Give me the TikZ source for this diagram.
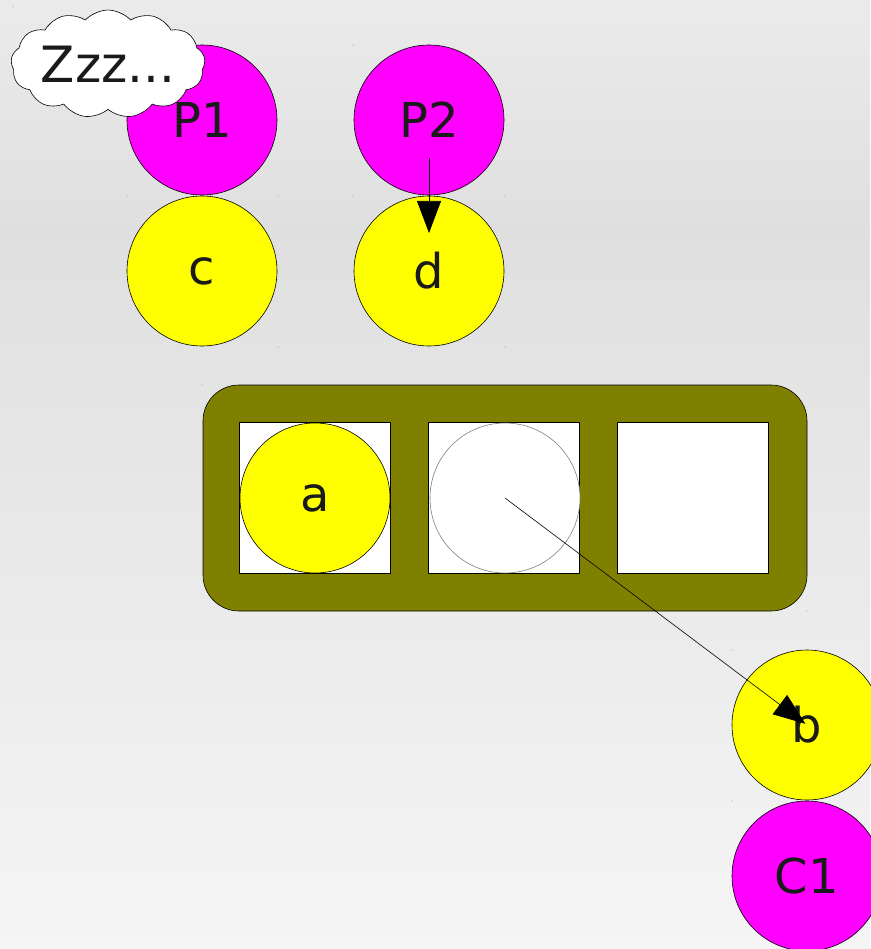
\documentclass[tikz,border=0pt]{standalone}
\usepackage{fontspec}
\setmainfont{DejaVu Sans}
\usetikzlibrary{shapes.symbols,arrows.meta}
\definecolor{txt}{HTML}{1A1A1A}
\definecolor{olivebox}{HTML}{808000}
\definecolor{pmag}{HTML}{FF00FF}
\definecolor{pyel}{HTML}{FFFF00}
\tikzset{
  ball/.style={circle, draw=black, line width=0.6pt, minimum size=150pt, inner sep=0pt,
    font=\fontsize{48}{48}\selectfont, text=txt},
  proc/.style={ball, fill=pmag},
  obj/.style={ball, fill=pyel},
  slot/.style={draw=black, line width=0.6pt, fill=white, minimum size=151pt, inner sep=0pt},
  pin/.style={fill=gray!70, inner sep=0pt, minimum size=1.2pt, circle},
  ptr/.style={-{Triangle[length=32pt,width=24pt]}, line width=0.6pt}
}
\begin{document}
\begin{tikzpicture}[x=1pt,y=-1pt]
\useasboundingbox (0,0) rectangle (870,949);
\shade[top color=black!8, bottom color=black!12.5] (0,0) rectangle (870,230);
\shade[top color=black!12.5, bottom color=black!4] (0,230) rectangle (870,949);
% corner markers
\foreach \p in {(13,7),(127,196),(278,196),(353,45),(353,196),(505,196),(278,347),(505,347),(202,385),(807,611),(732,650),(732,801)}
  \node[pin] at \p {};
% threads and objects
\node[proc] (P1) at (202,120) {P1};
\node[obj] (c) at (202,271) {c};
\node[proc] (P2) at (429,120) {P2};
\node[obj] (d) at (429,271) {d};
% array
\draw[line width=0.6pt, fill=olivebox, rounded corners=36pt] (203,385) rectangle (807,611);
\node[slot] (s1) at (315,498) {};
\node[slot] (s2) at (504,498) {};
\node[slot] (s3) at (693,498) {};
\node[obj] (a) at (315,498) {a};
\node[circle, draw=gray, line width=0.6pt, fill=white, minimum size=150pt, inner sep=0pt] (e) at (505,498) {};
\node[obj] (b) at (807,725) {b};
\node[proc] (C1) at (807,876) {C1};
% pointers
\draw[ptr, shorten <=38pt, shorten >=38pt] (P2.center) -- (d.center);
\draw[ptr, shorten >=2pt] (e.center) -- (b.center);
% sleeping cloud
\node[cloud, cloud puffs=13, cloud puff arc=95, aspect=2.1, draw=black, line width=0.6pt,
  fill=white, minimum width=188pt, minimum height=104pt, inner sep=0pt,
  font=\fontsize{50}{50}\selectfont, text=txt] (z) at (108,64) {Zzz...};
\end{tikzpicture}
\end{document}
